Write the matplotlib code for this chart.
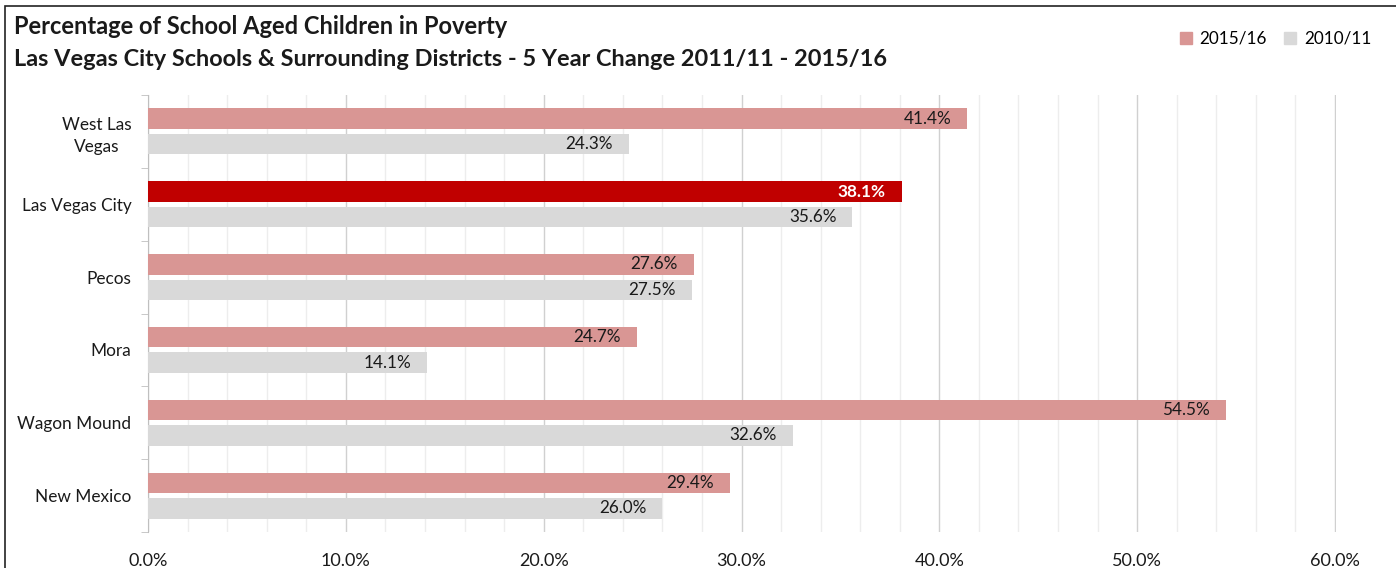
import numpy as np
import matplotlib.pyplot as plt
from matplotlib.patches import Rectangle, Patch
from matplotlib.ticker import MultipleLocator, PercentFormatter

plt.rcParams['font.family'] = ['Lato', 'DejaVu Sans']

districts = ['West Las\nVegas', 'Las Vegas City', 'Pecos', 'Mora', 'Wagon Mound', 'New Mexico']
pct_2015 = [41.4, 38.1, 27.6, 24.7, 54.5, 29.4]
pct_2010 = [24.3, 35.6, 27.5, 14.1, 32.6, 26.0]

pink = '#D99694'
grey = '#D9D9D9'
dark_red = '#C00000'
txt = '#1a1a1a'

fig = plt.figure(figsize=(13.96, 5.68), dpi=100)
ax = fig.add_axes([148 / 1396, 1 - 532 / 568, (1336 - 148) / 1396, (532 - 95) / 568])

y = np.arange(len(districts))
h = 0.28
off = 0.175
colors_2015 = [dark_red if d == 'Las Vegas City' else pink for d in districts]
ax.barh(y - off, pct_2015, height=h, color=colors_2015, zorder=3)
ax.barh(y + off, pct_2010, height=h, color=grey, zorder=3)

for i, (a, b) in enumerate(zip(pct_2015, pct_2010)):
    bold = districts[i] == 'Las Vegas City'
    ax.annotate(f'{a:.1f}%', xy=(a, i - off), xytext=(-11.5, 0), textcoords='offset points',
                ha='right', va='center', fontsize=12.3,
                color='white' if bold else txt, fontweight='bold' if bold else 'normal', zorder=4)
    ax.annotate(f'{b:.1f}%', xy=(b, i + off), xytext=(-11.5, 0), textcoords='offset points',
                ha='right', va='center', fontsize=12.3, color=txt, zorder=4)

ax.set_ylim(len(districts) - 0.5, -0.5)
ax.set_xlim(0, 60.05)
ax.xaxis.set_major_locator(MultipleLocator(10))
ax.xaxis.set_minor_locator(MultipleLocator(2))
ax.xaxis.set_major_formatter(PercentFormatter(decimals=1))
ax.grid(axis='x', which='major', color='#D0D0D0', lw=1, zorder=0)
ax.grid(axis='x', which='minor', color='#EDEDED', lw=1, zorder=0)
ax.tick_params(axis='x', which='both', length=0, labelsize=13, pad=15, labelcolor=txt)

ax.set_yticks(y, districts)
ax.set_yticks(np.arange(len(districts) + 1) - 0.5, minor=True)
ax.tick_params(axis='y', which='major', length=0, labelsize=12.4, pad=12, labelcolor=txt)
ax.tick_params(axis='y', which='minor', length=5, color='#BFBFBF', direction='out')
for lbl in ax.get_yticklabels():
    lbl.set_multialignment('center')
    lbl.set_linespacing(1.45)

for s in ['top', 'right', 'bottom']:
    ax.spines[s].set_visible(False)
ax.spines['left'].set_color('#BFBFBF')

fig.text(14 / 1396, 1 - 27 / 568, 'Percentage of School Aged Children in Poverty',
         fontsize=17, fontweight='bold', color=txt, va='center')
fig.text(14 / 1396, 1 - 60 / 568,
         'Las Vegas City Schools & Surrounding Districts - 5 Year Change 2011/11 - 2015/16',
         fontsize=16.9, fontweight='bold', color=txt, va='center')

handles = [Patch(color=pink), Patch(color=grey)]
fig.legend(handles, ['2015/16', '2010/11'], loc='center right', ncol=2, frameon=False,
           bbox_to_anchor=(1378 / 1396, 1 - 39 / 568), fontsize=12.3,
           handlelength=0.7, handleheight=0.7, handletextpad=0.45, columnspacing=1.0,
           borderaxespad=0)

fig.patches.append(Rectangle((5 / 1396, -0.1), 1.2, 1 - 6 / 568 + 0.1, transform=fig.transFigure,
                             fill=False, edgecolor='#222222', lw=1.2))

fig.savefig('out.png', dpi=100)
